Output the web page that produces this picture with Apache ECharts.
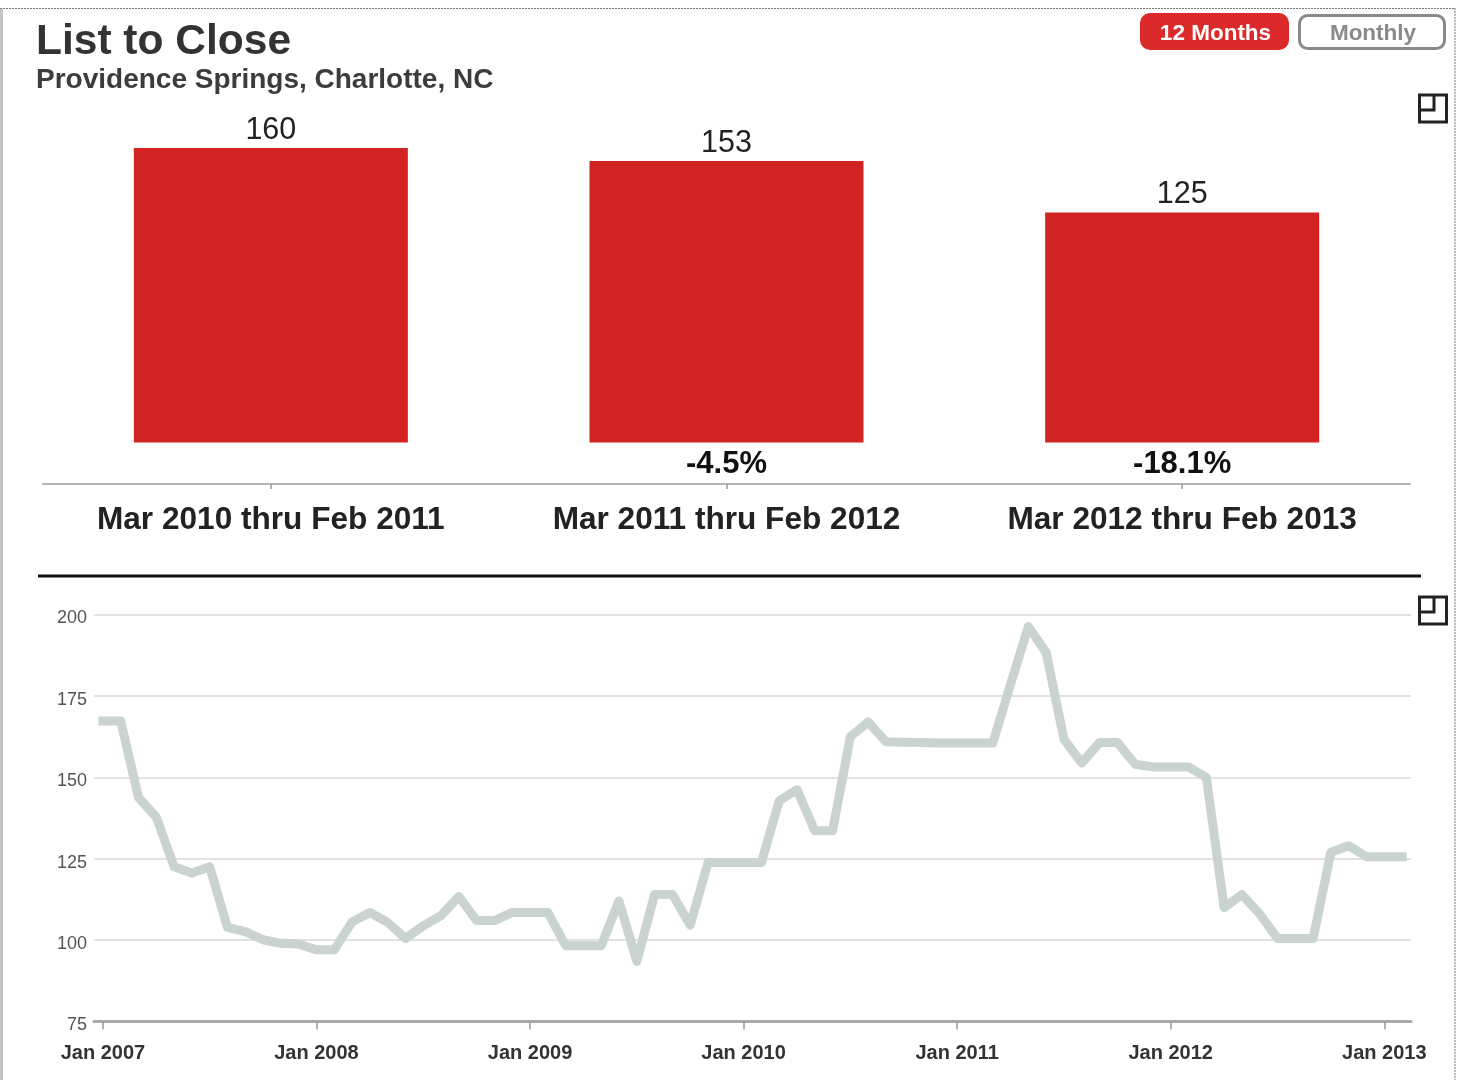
<!DOCTYPE html>
<html>
<head>
<meta charset="utf-8">
<title>List to Close</title>
<script src="https://cdn.jsdelivr.net/npm/echarts@6/dist/echarts.min.js"></script>
<style>
	html, body { margin: 0; padding: 0; background: #fff; }
	#chart { width: 1464px; height: 1080px; }
</style>
</head>
<body>
<div id="chart"></div>
<script>
var periods = ["Mar 2010 thru Feb 2011", "Mar 2011 thru Feb 2012", "Mar 2012 thru Feb 2013"];
var periodValues = [160, 153, 125];
var periodChanges = ["", "-4.5%", "-18.1%"];

var monthNames = ["Jan", "Feb", "Mar", "Apr", "May", "Jun", "Jul", "Aug", "Sep", "Oct", "Nov", "Dec"];
var monthlyValues = [
	167.3, 167.3, 143.8, 137.7, 122.5, 120.6, 122.5, 103.9, 102.6, 100.1, 99, 98.8,
	97, 97, 105.6, 108.5, 105.4, 100.5, 104.4, 107.5, 113.4, 106, 106, 108.5,
	108.5, 108.5, 98.3, 98.3, 98.3, 112, 93.5, 114, 114, 104.6, 123.8, 123.8,
	123.8, 123.8, 142.8, 146.2, 133.6, 133.6, 162.5, 167, 160.9, 160.8, 160.7, 160.5,
	160.5, 160.5, 160.5, 178.6, 196.3, 188.3, 161.7, 154.4, 160.7, 160.7, 154, 153.2,
	153.2, 153.2, 150, 110, 114, 108, 100.5, 100.5, 100.5, 127, 129, 125.6,
	125.6, 125.6
];

var months = [];
for(var i = 0; i < monthlyValues.length; i++){
	months.push(monthNames[i % 12] + " " + (2007 + Math.floor(i / 12)));
}

var FONT = '"Liberation Sans", Arial, sans-serif';
var RED = "#d02322";

function iconGraphic(top){
	return [
		{type: "rect", shape: {x: 1419.5, y: top, width: 27, height: 27}, style: {fill: "none", stroke: "#222", lineWidth: 3}},
		{type: "polyline", shape: {points: [[1419.5, top + 15], [1434, top + 15], [1434, top]]}, style: {fill: "none", stroke: "#222", lineWidth: 3}}
	];
}

var graphics = [
	// page frame
	{type: "line", shape: {x1: 0, y1: 8.5, x2: 1455, y2: 8.5}, style: {stroke: "#777", lineWidth: 1, lineDash: [2, 1]}},
	{type: "line", shape: {x1: 1455, y1: 8, x2: 1455, y2: 1080}, style: {stroke: "#777", lineWidth: 1, lineDash: [2, 1]}},
	{type: "line", shape: {x1: 1.5, y1: 9, x2: 1.5, y2: 1080}, style: {stroke: "#c4c4c4", lineWidth: 3}},
	// divider between the two panels
	{type: "line", shape: {x1: 38, y1: 576, x2: 1421, y2: 576}, style: {stroke: "#111", lineWidth: 3}},
	// period buttons
	{type: "rect", shape: {x: 1140, y: 13, width: 149, height: 37, r: 10}, style: {fill: "#dc2a2a"}},
	{type: "text", x: 1215.5, y: 33.5, style: {text: "12 Months", fill: "#fff", font: "bold 22.5px " + FONT, align: "center", verticalAlign: "middle"}},
	{type: "rect", shape: {x: 1299.5, y: 15.5, width: 145, height: 33, r: 8}, style: {fill: "#fff", stroke: "#8a8a8a", lineWidth: 3}},
	{type: "text", x: 1373, y: 33.5, style: {text: "Monthly", fill: "#8a8a8a", font: "bold 22.5px " + FONT, align: "center", verticalAlign: "middle"}}
].concat(iconGraphic(95), iconGraphic(597));

var chart = echarts.init(document.getElementById("chart"));
chart.setOption({
	animation: false,
	backgroundColor: "#fff",
	textStyle: {fontFamily: FONT},
	title: [
		{text: "List to Close", left: 36, top: 21, padding: 0, textStyle: {fontFamily: FONT, fontSize: 42.5, fontWeight: "bold", color: "#333"}},
		{text: "Providence Springs, Charlotte, NC", left: 36, top: 66, padding: 0, textStyle: {fontFamily: FONT, fontSize: 28, fontWeight: "bold", color: "#3c3c3c"}}
	],
	graphic: graphics,
	grid: [
		{left: 43, top: 148, width: 1367, height: 336},
		{left: 94, top: 614.5, width: 1317, height: 407}
	],
	xAxis: [
		{
			type: "category", gridIndex: 0, data: periods,
			axisLine: {onZero: false, lineStyle: {color: "#b5b5b5", width: 2}},
			axisTick: {show: true, length: 5, alignWithLabel: true, lineStyle: {color: "#999", width: 1.5}},
			axisLabel: {margin: 20, fontFamily: FONT, fontSize: 31.6, fontWeight: "bold", color: "#222"}
		},
		{
			type: "category", gridIndex: 1, data: months,
			axisLine: {lineStyle: {color: "#aaa", width: 3}},
			axisTick: {show: true, length: 8, alignWithLabel: true, interval: 11, lineStyle: {color: "#999", width: 1.5}},
			axisLabel: {margin: 22, interval: 11, fontFamily: FONT, fontSize: 20, fontWeight: "bold", color: "#333"}
		}
	],
	yAxis: [
		{type: "value", gridIndex: 0, min: -22.6, max: 160, show: false, splitLine: {show: false}},
		{
			type: "value", gridIndex: 1, min: 75, max: 200, interval: 25,
			axisLine: {show: false},
			axisTick: {show: false},
			axisLabel: {margin: 7, verticalAlign: "top", lineHeight: 8, fontFamily: FONT, fontSize: 18, color: "#555"},
			splitLine: {lineStyle: {color: "#d8d8d8", width: 1.5}}
		}
	],
	series: [
		{
			type: "bar", xAxisIndex: 0, yAxisIndex: 0, data: periodValues, barWidth: 274,
			itemStyle: {color: RED},
			label: {show: true, position: "top", distance: 2, fontFamily: FONT, fontSize: 30.5, color: "#222"}
		},
		{
			// change against the first period, printed under the bars
			type: "scatter", xAxisIndex: 0, yAxisIndex: 0, symbolSize: 0,
			itemStyle: {opacity: 1},
			data: periodChanges.map(function(text){ return {value: 0, text: text}; }),
			label: {
				show: true, position: "bottom", distance: 7,
				formatter: function(p){ return p.data.text; },
				fontFamily: FONT, fontSize: 31, fontWeight: "bold", color: "#111"
			}
		},
		{
			type: "line", xAxisIndex: 1, yAxisIndex: 1, data: monthlyValues,
			symbol: "none", smooth: false,
			lineStyle: {color: "#c9d3d1", width: 9, join: "round", cap: "square"}
		}
	]
});
</script>
</body>
</html>
